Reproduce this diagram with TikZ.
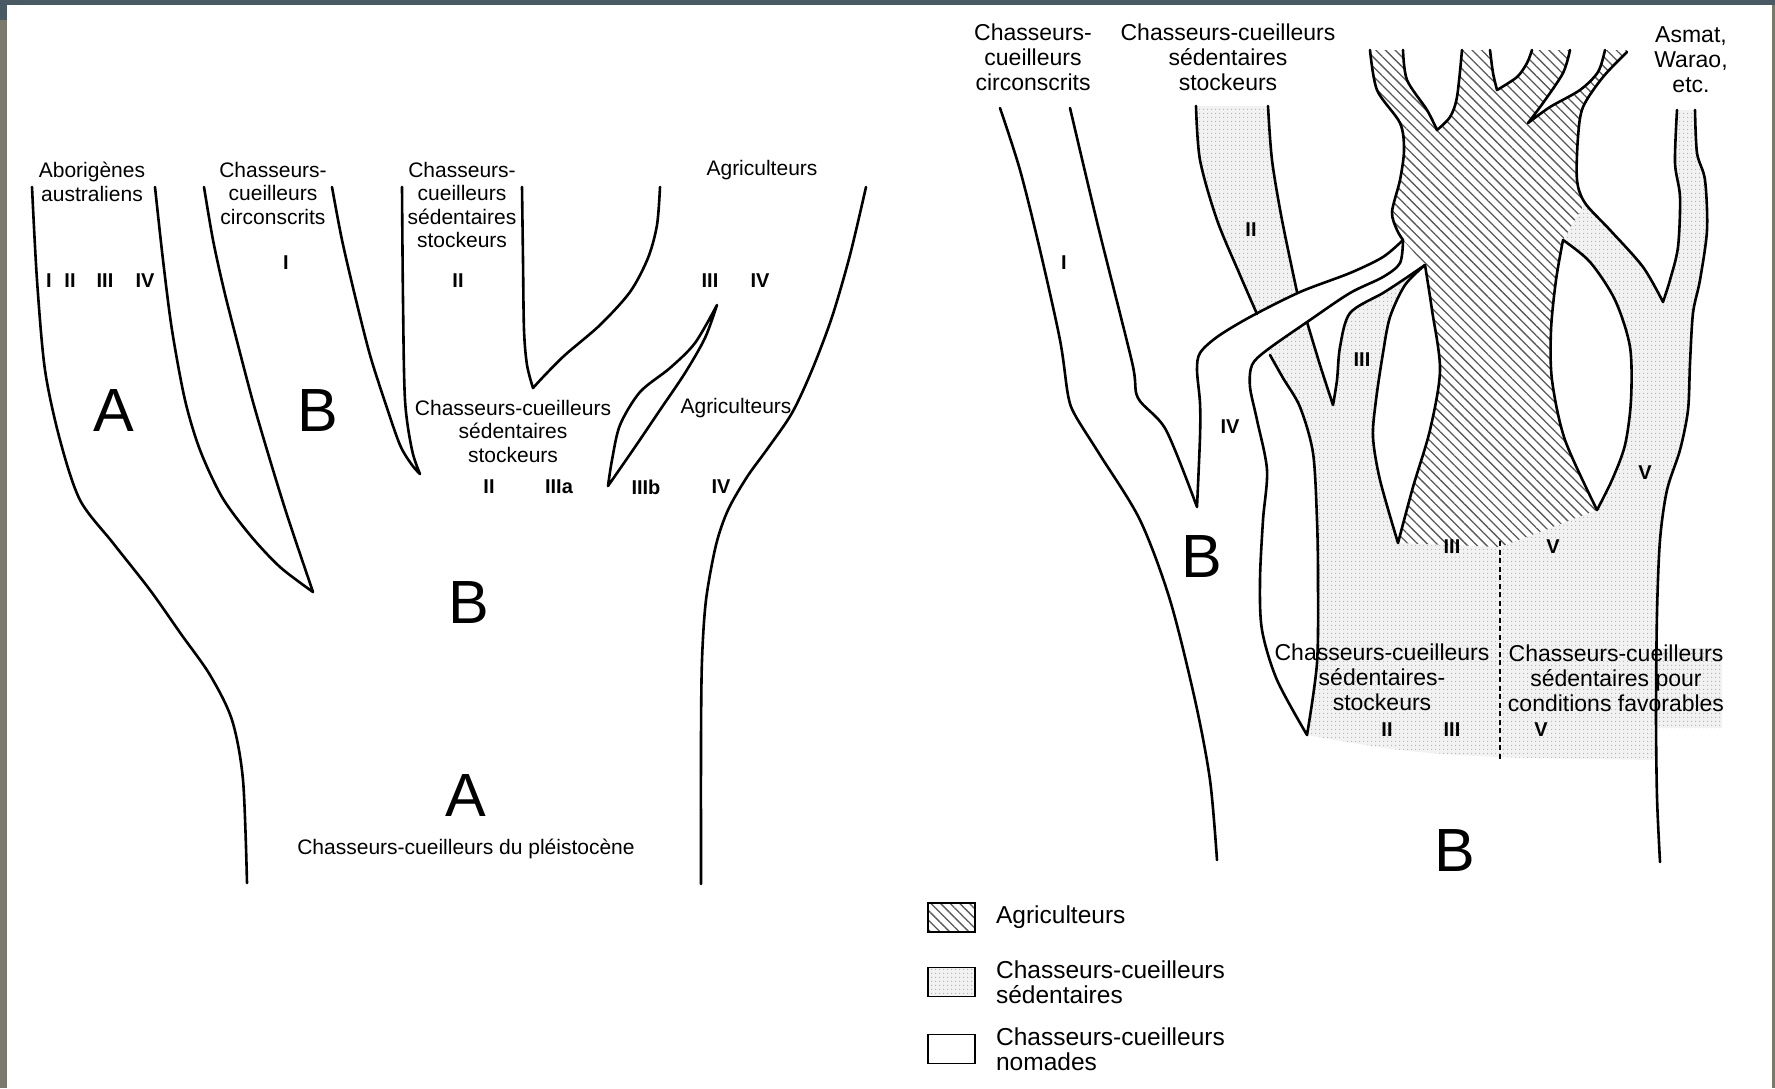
\documentclass[tikz,border=0pt]{standalone}
\usepackage{fontspec}
\setmainfont{Liberation Sans}
\usepackage{tikz}
\usetikzlibrary{patterns.meta, positioning}

\definecolor{frameslate}{RGB}{74,90,101}
\definecolor{frameolive}{RGB}{122,122,108}

\begin{document}
\begin{tikzpicture}[x=1pt, y=-1pt,
    trait/.style={line width=2.6pt, line join=round, line cap=round},
    agri/.style={preaction={fill=white}, pattern={Lines[angle=-45,distance=6.8pt,line width=1.3pt]}, pattern color=black!65},
    sedent/.style={preaction={fill=gray!10}, pattern={Dots[distance=4pt,radius=.8pt]}, pattern color=gray!60},
    lbl/.style={font=\fontsize{21}{23.5}\selectfont, align=center, inner sep=0pt},
    rlbl/.style={font=\fontsize{23}{25}\selectfont, align=center, inner sep=0pt},
    num/.style={font=\fontsize{20}{20}\selectfont\bfseries, inner sep=0pt},
    big/.style={font=\fontsize{61}{61}\selectfont, inner sep=0pt},
    legbox/.style={draw, line width=1.8pt, minimum width=47pt, minimum height=29pt, inner sep=0pt},
    legtxt/.style={font=\fontsize{24.5}{24.5}\selectfont, align=left, inner sep=0pt}]

    \useasboundingbox (0,0) rectangle (1775,1088);
    \fill[white] (0,0) rectangle (1775,1088);
    % frame strips
    \fill[frameolive] (0,5) rectangle (7,1088);
    \fill[frameolive] (1772,5) rectangle (1775,1088);
    \fill[frameslate] (0,0) rectangle (1775,5);
    \fill[frameslate] (0,0) rectangle (7,20);

    % ---------- left tree ----------
    \draw[trait] plot[smooth] coordinates {(32,187) (37,280) (45,370) (60,440) (80,500) (113,543) (150,590) (181,634) (210,675) (232,720) (243,780) (247,883)};
    \draw[trait] plot[smooth] coordinates {(155,187) (163,260) (172,330) (185,400) (200,450) (222,497) (250,535) (280,567) (313,592)}
        -- plot[smooth] coordinates {(313,592) (288,518) (270,460) (253,402) (238,345) (224,290) (213,240) (204,187)};
    \draw[trait] plot[smooth] coordinates {(332,187) (342,240) (356,300) (370,355) (385,402) (400,445) (412,465) (420,474)}
        -- plot[smooth] coordinates {(420,474) (412,450) (405,400) (403,300) (402,187)};
    \draw[trait] plot[smooth] coordinates {(522,187) (523,260) (524,330) (527,365) (533,388)}
        -- plot[smooth] coordinates {(533,388) (545,375) (565,355) (600,325) (630,292) (648,258) (657,225) (660,187)};
    \draw[trait] plot[smooth] coordinates {(608,486) (612,460) (620,425) (640,392) (670,368) (695,343) (717,305)}
        -- plot[smooth] coordinates {(717,305) (705,338) (685,373) (660,410) (635,447) (608,486)};
    \draw[trait] plot[smooth] coordinates {(866,187) (850,255) (832,317) (812,370) (792,413) (768,448) (747,477) (728,510) (716,545) (706,600) (702,660) (701,740) (701,884)};

    % Nodes
    \node (abo) [lbl] at (92,182) {Aborigènes\\australiens};
    \node (circL) [lbl] at (273,193) {Chasseurs-\\cueilleurs\\circonscrits};
    \node (stockL) [lbl] at (462,205) {Chasseurs-\\cueilleurs\\sédentaires\\stockeurs};
    \node (agriL) [lbl] at (762,170) {Agriculteurs};
    \node (nA1) [num] at (49,281) {I};
    \node (nA2) [num] at (70,281) {II};
    \node (nA3) [num] at (105,281) {III};
    \node (nA4) [num] at (145,281) {IV};
    \node (nB1) [num] at (286,263) {I};
    \node (nC2) [num] at (458,281) {II};
    \node (nD3) [num] at (710,281) {III};
    \node (nD4) [num] at (760,281) {IV};
    \node (bigA1) [big] at (114,411) {A};
    \node (bigB1) [big] at (318,411) {B};
    \node (stockM) [lbl] at (513,431) {Chasseurs-cueilleurs\\sédentaires\\stockeurs};
    \node (agriM) [lbl] at (736,408) {Agriculteurs};
    \node (nE2) [num] at (489,487) {II};
    \node (nE3a) [num] at (559,487) {IIIa};
    \node (nE3b) [num] at (646,487) {IIIb};
    \node (nE4) [num] at (721,487) {IV};
    \node (bigB2) [big] at (469,603) {B};
    \node (bigA2) [big] at (466,796) {A};
    \node (pleist) [lbl] at (466,849) {Chasseurs-cueilleurs du pléistocène};

    % ---------- right tree ----------
    % sedentary area
    \path[sedent]
        plot[smooth] coordinates {(1196,106) (1200,160) (1217,220) (1240,275) (1257,314) (1270,355) (1300,407) (1313,453) (1317,520) (1318,580) (1317,663) (1307,735)}
        -- plot[smooth] coordinates {(1307,735) (1400,750) (1500,757) (1656,760)}
        -- plot[smooth] coordinates {(1656,760) (1656,713) (1657,613) (1660,540) (1667,490) (1680,450) (1688,410) (1690,363) (1693,313) (1700,280) (1707,230) (1705,180) (1697,153) (1695,110)}
        -- plot[smooth] coordinates {(1677,110) (1675,163) (1680,197) (1678,247) (1670,280) (1663,302)}
        -- plot[smooth] coordinates {(1663,302) (1643,267) (1610,230) (1585,203) (1577,180) (1578,137) (1583,107) (1603,77) (1627,52)}
        -- (1627,50) -- (1370,50)
        -- plot[smooth] coordinates {(1370,50) (1377,90) (1400,123) (1404,150) (1400,180) (1392,212) (1397,230) (1403,240)}
        -- (1425,265)
        -- plot[smooth] coordinates {(1425,265) (1403,280) (1383,293) (1350,313) (1340,347) (1337,380) (1333,405)}
        -- plot[smooth] coordinates {(1333,405) (1320,365) (1307,322) (1297,292) (1282,220) (1272,160) (1268,106)}
        -- cycle;
    \path[sedent] (1650,648) rectangle (1722,728);
    % farmers area
    \path[agri]
        plot[smooth] coordinates {(1370,50) (1377,90) (1400,123) (1404,150) (1400,180) (1392,212) (1397,230) (1403,240)}
        -- (1425,265)
        -- plot[smooth] coordinates {(1425,265) (1432,310) (1440,370) (1430,430) (1413,487) (1398,543)}
        -- (1500,547) -- (1597,510)
        -- plot[smooth] coordinates {(1597,510) (1565,440) (1552,380) (1551,330) (1556,280) (1563,240)}
        -- (1585,203)
        -- plot[smooth] coordinates {(1585,203) (1577,180) (1578,137) (1583,107) (1603,77) (1627,52)}
        -- (1627,50) -- cycle;
    % band IV over band II
    \fill[white] plot[smooth] coordinates {(1403,240) (1383,257) (1350,273) (1300,292) (1250,317) (1217,337) (1200,353) (1197,370) (1200,403)}
        -- plot[smooth] coordinates {(1250,387) (1252,365) (1267,350) (1310,320) (1350,293) (1383,277) (1400,263) (1403,240)} -- cycle;

    % branch I and IV
    \draw[trait] plot[smooth] coordinates {(1000,108) (1020,170) (1040,250) (1060,340) (1068,395) (1075,415) (1100,455) (1140,520) (1170,600) (1195,700) (1210,780) (1217,860)};
    \draw[trait] plot[smooth] coordinates {(1070,108) (1098,226) (1132,362) (1138,398) (1166,430) (1197,507)}
        -- plot[smooth] coordinates {(1197,507) (1200,437) (1200,403) (1197,370) (1200,353) (1217,337) (1250,317) (1300,292) (1350,273) (1383,257) (1403,240)};
    \draw[trait] plot[smooth] coordinates {(1403,240) (1400,263) (1383,277) (1350,293) (1310,320) (1267,350) (1252,365) (1250,387) (1257,420) (1267,470) (1263,520) (1260,580) (1262,630) (1277,680) (1307,735)}
        -- plot[smooth] coordinates {(1307,735) (1317,663) (1318,580) (1317,520) (1313,453) (1300,407) (1283,378) (1270,355)};
    % branch II and III
    \draw[trait] plot[smooth] coordinates {(1196,106) (1200,160) (1217,220) (1240,275) (1257,314)};
    \draw[trait] plot[smooth] coordinates {(1268,106) (1272,160) (1282,220) (1297,292)};
    \draw[trait] plot[smooth] coordinates {(1307,322) (1320,365) (1333,405)}
        -- plot[smooth] coordinates {(1333,405) (1337,380) (1340,347) (1350,313) (1383,293) (1403,280) (1425,265)};
    % white lenses
    \filldraw[trait, fill=white] plot[smooth] coordinates {(1425,265) (1405,285) (1390,317) (1383,353) (1376,400) (1373,437) (1380,480) (1398,543)}
        -- plot[smooth] coordinates {(1398,543) (1413,487) (1430,430) (1440,370) (1432,310) (1425,265)} -- cycle;
    \filldraw[trait, fill=white] plot[smooth] coordinates {(1563,240) (1556,280) (1551,330) (1552,380) (1565,440) (1597,510)}
        -- plot[smooth] coordinates {(1597,510) (1612,480) (1625,445) (1631,400) (1630,347) (1615,300) (1590,262) (1563,240)} -- cycle;
    % farmers top
    \draw[trait] plot[smooth] coordinates {(1370,50) (1377,90) (1400,123) (1404,150) (1400,180) (1392,212) (1397,230) (1403,240)};
    \filldraw[trait, fill=white] plot[smooth] coordinates {(1403,50) (1407,80) (1427,110) (1437,130)}
        -- plot[smooth] coordinates {(1437,130) (1450,117) (1457,97) (1462,50)};
    \filldraw[trait, fill=white] plot[smooth] coordinates {(1490,50) (1493,73) (1497,90)}
        -- plot[smooth] coordinates {(1497,90) (1517,77) (1527,63) (1532,50)};
    \filldraw[trait, fill=white] plot[smooth] coordinates {(1570,50) (1563,73) (1543,103) (1528,123)}
        -- plot[smooth] coordinates {(1528,123) (1550,107) (1580,90) (1598,72) (1605,50)};
    % branch V and Asmat
    \draw[trait] plot[smooth] coordinates {(1627,52) (1603,77) (1583,107) (1578,137) (1577,180) (1585,203) (1610,230) (1643,267) (1663,302)}
        -- plot[smooth] coordinates {(1663,302) (1670,280) (1678,247) (1680,197) (1675,163) (1677,110)};
    \draw[trait] plot[smooth] coordinates {(1695,110) (1697,153) (1705,180) (1707,230) (1700,280) (1693,313) (1690,363) (1688,410) (1680,450) (1667,490) (1660,540) (1657,613) (1656,713) (1657,797) (1660,862)};
    \draw[line width=2.2pt, dash pattern=on 5pt off 3.5pt] (1500,541) -- (1500,761);

    \node (circR) [rlbl] at (1033,57) {Chasseurs-\\cueilleurs\\circonscrits};
    \node (stockR) [rlbl] at (1228,57) {Chasseurs-cueilleurs\\sédentaires\\stockeurs};
    \node (asmat) [rlbl] at (1691,60) {Asmat,\\Warao,\\etc.};
    \node (rI) [num] at (1064,263) {I};
    \node (rII) [num] at (1251,230) {II};
    \node (rIII) [num] at (1362,360) {III};
    \node (rIV) [num] at (1230,427) {IV};
    \node (rV) [num] at (1645,473) {V};
    \node (bigB3) [big] at (1202,557) {B};
    \node (sIII) [num] at (1452,547) {III};
    \node (sV) [num] at (1553,547) {V};
    \node (stockB) [rlbl] at (1382,677) {Chasseurs-cueilleurs\\sédentaires-\\stockeurs};
    \node (favor) [rlbl] at (1616,678) {Chasseurs-cueilleurs\\sédentaires pour\\conditions favorables};
    \node (bII) [num] at (1387,730) {II};
    \node (bIII) [num] at (1452,730) {III};
    \node (bV) [num] at (1541,730) {V};
    \node (bigB4) [big] at (1455,851) {B};

    % legend
    \node (kagri) [legbox, agri] at (951.5,917.5) {};
    \node (ksed) [legbox, sedent] at (951.5,982) {};
    \node (knom) [legbox, fill=white] at (951.5,1049) {};
    \node (tagri) [legtxt, right=20pt of kagri] {Agriculteurs};
    \node (tsed) [legtxt, right=20pt of ksed] {Chasseurs-cueilleurs\\sédentaires};
    \node (tnom) [legtxt, right=20pt of knom] {Chasseurs-cueilleurs\\nomades};
\end{tikzpicture}
\end{document}
